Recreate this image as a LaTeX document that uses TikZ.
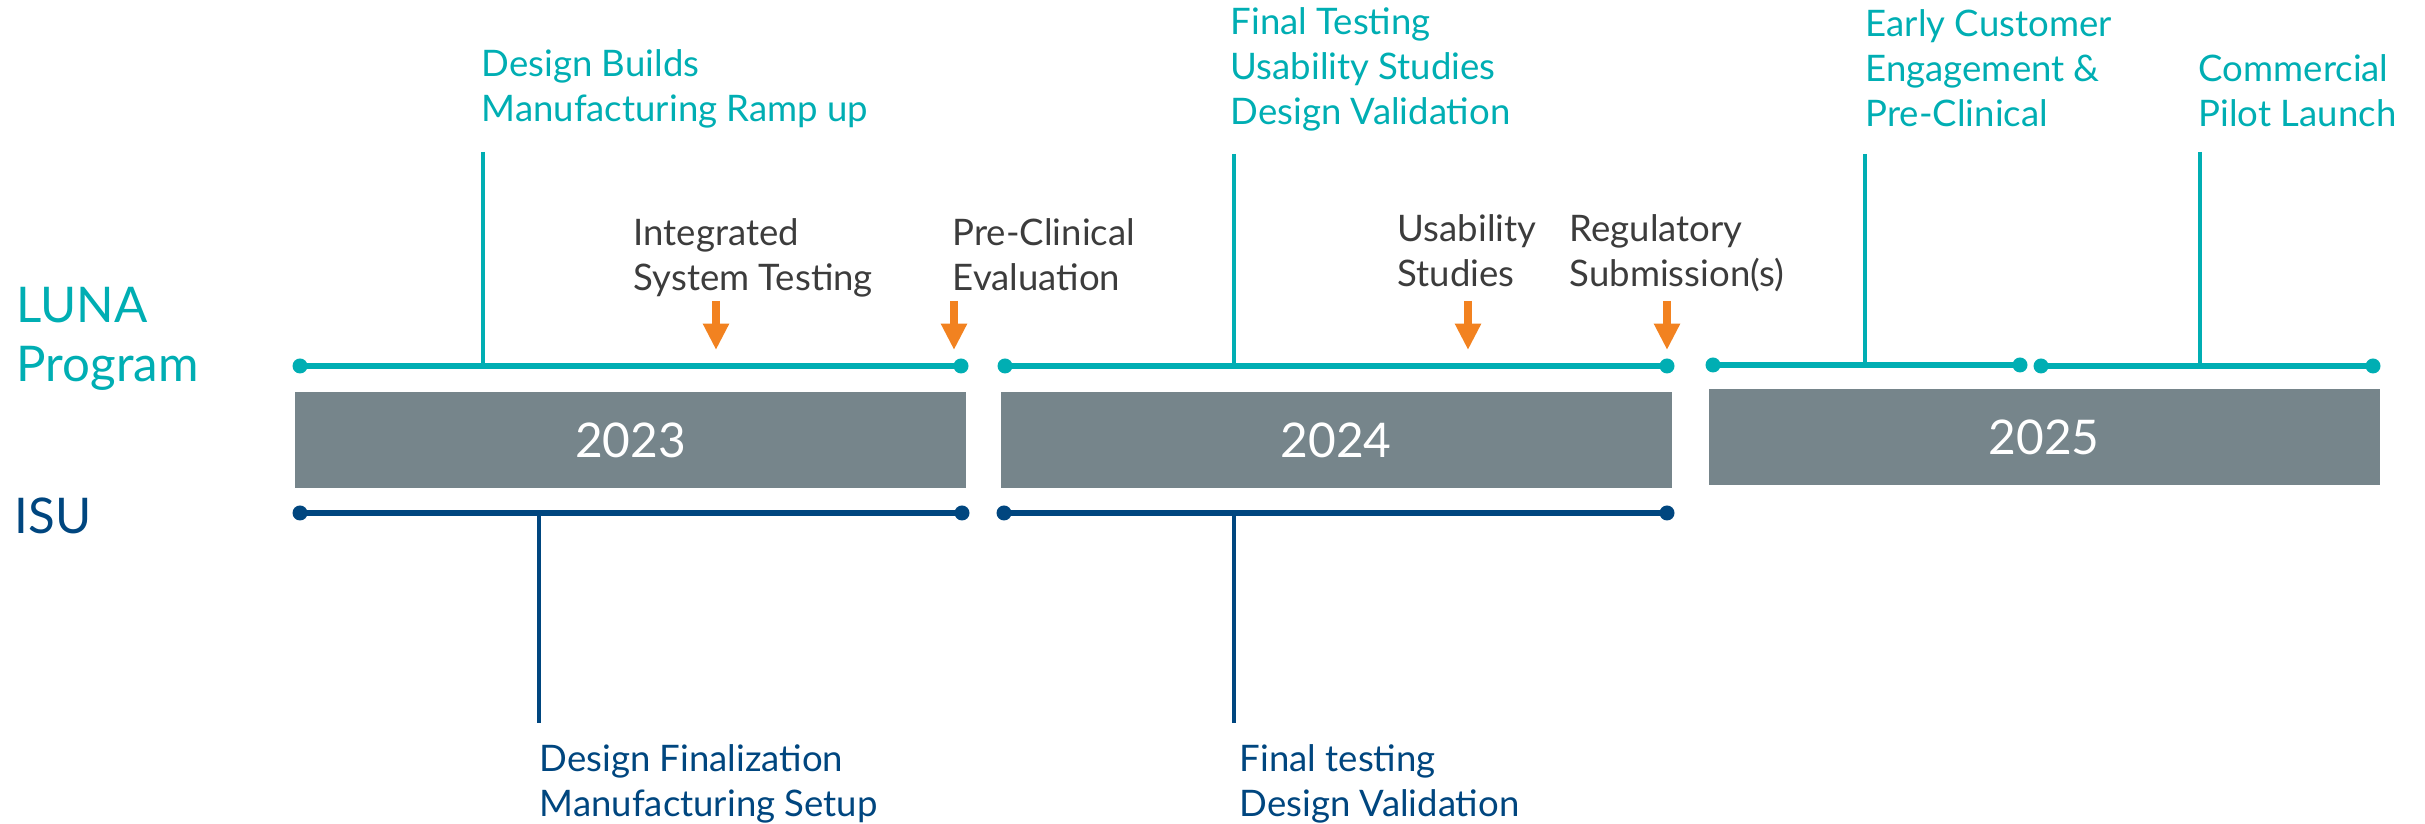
\documentclass[tikz,border=0pt]{standalone}
\usepackage{fontspec}
\setmainfont{Lato}
\usetikzlibrary{arrows.meta}

\definecolor{lunateal}{RGB}{0,174,179}
\definecolor{isublue}{RGB}{0,70,127}
\definecolor{yeargray}{RGB}{118,133,139}
\definecolor{flagorange}{RGB}{242,130,32}
\definecolor{notegray}{RGB}{60,60,60}

\tikzset{
  lunatext/.style={lunateal, anchor=base west, align=left, inner sep=0pt, font=\fontsize{10.4}{12.9}\selectfont},
  isutext/.style={isublue, anchor=base west, align=left, inner sep=0pt, font=\fontsize{10.4}{12.9}\selectfont},
  notetext/.style={notegray, anchor=base west, align=left, inner sep=0pt, font=\fontsize{10.4}{12.9}\selectfont},
  rowtext/.style={anchor=base west, align=left, inner sep=0pt, font=\fontsize{14}{16.8}\selectfont},
  yearbox/.style={fill=yeargray, text=white, minimum width=6.71cm, minimum height=0.96cm, inner sep=0pt, font=\fontsize{13.6}{15}\selectfont},
  tline/.style={lunateal, line width=1.6pt},
  iline/.style={isublue, line width=1.6pt},
  tpin/.style={lunateal, line width=1.3pt},
  ipin/.style={isublue, line width=1.3pt},
  flag/.style={flagorange, line width=2.2pt, -{Triangle[width=7pt,length=7.5pt]}}
}

\begin{document}
\begin{tikzpicture}
\useasboundingbox (0,0) rectangle (24.25,-8.24);

\node[rowtext, lunateal] (luna) at (0.16,-3.82) {LUNA\\Program};
\node[rowtext, isublue] (isu) at (0.14,-5.34) {ISU};

\node[yearbox] (y2023) at (6.305,-4.40) {2023};
\node[yearbox] (y2024) at (13.36,-4.40) {2024};
\node[yearbox] (y2025) at (20.44,-4.37) {2025};

% luna timeline ends
\coordinate (ta) at (3.00,-3.66);
\coordinate (tb) at (9.61,-3.66);
\coordinate (tc) at (10.05,-3.66);
\coordinate (td) at (16.67,-3.66);
\coordinate (te) at (17.13,-3.65);
\coordinate (tf) at (20.20,-3.65);
\coordinate (tg) at (20.41,-3.66);
\coordinate (th) at (23.73,-3.66);

% isu timeline ends
\coordinate (ia) at (3.00,-5.13);
\coordinate (ib) at (9.62,-5.13);
\coordinate (ic) at (10.04,-5.13);
\coordinate (id) at (16.67,-5.13);

\draw[tline] (ta) -- (tb);
\draw[tline] (tc) -- (td);
\draw[tline] (te) -- (tf);
\draw[tline] (tg) -- (th);
\draw[iline] (ia) -- (ib);
\draw[iline] (ic) -- (id);

\foreach \p in {ta,tb,tc,td,te,tf,tg,th}
  \fill[lunateal] (\p) circle (0.075);
\foreach \p in {ia,ib,ic,id}
  \fill[isublue] (\p) circle (0.075);

% luna milestones
\node[lunatext] (builds) at (4.81,-1.22) {Design Builds\\Manufacturing Ramp up};
\node[lunatext] (finaltest) at (12.30,-1.25) {Final Testing\\Usability Studies\\Design Validation};
\node[lunatext] (early) at (18.65,-1.27) {Early Customer\\Engagement \&\\Pre-Clinical};
\node[lunatext] (pilot) at (21.98,-1.27) {Commercial\\Pilot Launch};

\coordinate (pbuilds) at (4.83,-1.52);
\coordinate (pfinal) at (12.34,-1.54);
\coordinate (pearly) at (18.65,-1.54);
\coordinate (ppilot) at (22.00,-1.52);

\draw[tpin] (pbuilds) -- (pbuilds |- ta);
\draw[tpin] (pfinal) -- (pfinal |- tc);
\draw[tpin] (pearly) -- (pearly |- te);
\draw[tpin] (ppilot) -- (ppilot |- tg);

% flagged events
\node[notetext] (integ) at (6.33,-2.91) {Integrated\\System Testing};
\node[notetext] (preclin) at (9.52,-2.91) {Pre-Clinical\\Evaluation};
\node[notetext] (usab) at (13.97,-2.87) {Usability\\Studies};
\node[notetext] (regul) at (15.69,-2.87) {Regulatory\\Submission(s)};

\foreach \x/\n in {7.16/finteg, 9.54/fpre, 14.68/fusab, 16.67/fregul}
  \draw[flag] (\x,-3.01) coordinate (\n) -- (\x,-3.50);

% isu milestones
\coordinate (pfinalize) at (5.39,-7.23);
\coordinate (pvalid) at (12.34,-7.23);

\draw[ipin] (pfinalize |- ia) -- (pfinalize);
\draw[ipin] (pvalid |- ic) -- (pvalid);

\node[isutext] (finalize) at (5.39,-8.17) {Design Finalization\\Manufacturing Setup};
\node[isutext] (valid) at (12.39,-8.17) {Final testing\\Design Validation};

\end{tikzpicture}
\end{document}
